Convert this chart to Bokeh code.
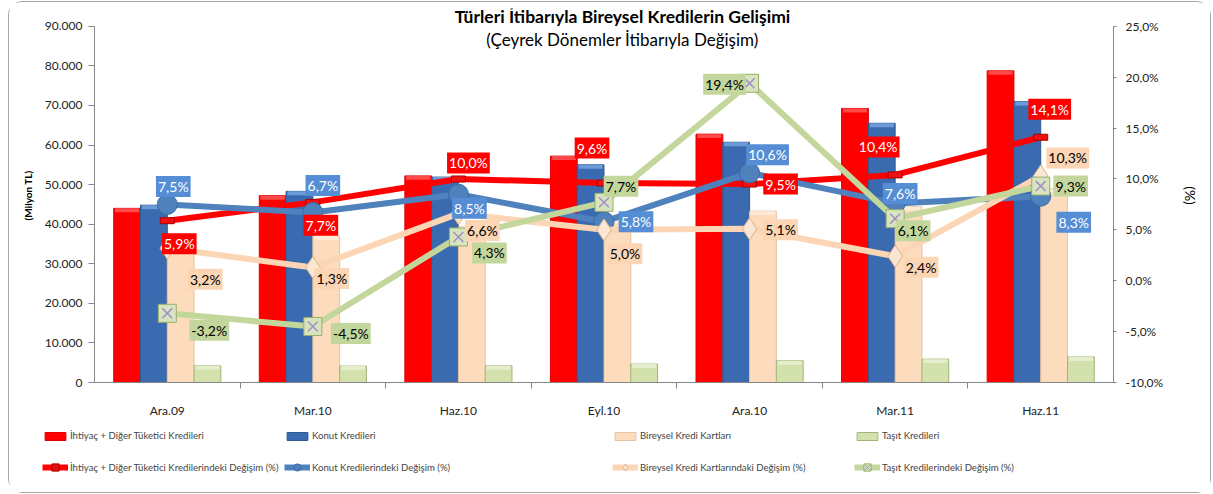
from bokeh.plotting import figure
from bokeh.layouts import column, row
from bokeh.models import (Range1d, LinearAxis, FixedTicker, CustomJSTickFormatter, ColumnDataSource,
                          Label, Legend, LegendItem)
from bokeh.transform import dodge
from bokeh.embed import file_html
from bokeh.resources import INLINE

# ---------------- data ----------------
categories = ["Ara.09", "Mar.10", "Haz.10", "Eyl.10", "Ara.10", "Mar.11", "Haz.11"]
ihtiyac = [44000, 47200, 52200, 57200, 62750, 69250, 78750]
konut = [44800, 48300, 51900, 55000, 60700, 65500, 71000]
kart = [36500, 37000, 39400, 41300, 43300, 44400, 49000]
tasit = [4200, 4150, 4200, 4650, 5500, 5900, 6450]
ihtiyac_pct = [5.9, 7.7, 10.0, 9.6, 9.5, 10.4, 14.1]
konut_pct = [7.5, 6.7, 8.5, 5.8, 10.6, 7.6, 8.3]
kart_pct = [3.2, 1.3, 6.6, 5.0, 5.1, 2.4, 10.3]
tasit_pct = [-3.2, -4.5, 4.3, 7.7, 19.4, 6.1, 9.3]
left_ticks = [0, 10000, 20000, 30000, 40000, 50000, 60000, 70000, 80000, 90000]
right_ticks = [-10, -5, 0, 5, 10, 15, 20, 25]

series_names = ["İhtiyaç + Diğer Tüketici Kredileri", "Konut Kredileri",
                "Bireysel Kredi Kartları", "Taşıt Kredileri"]
pct_names = ["İhtiyaç + Diğer Tüketici Kredilerindeki Değişim (%)",
             "Konut Kredilerindeki Değişim (%)",
             "Bireysel Kredi Kartlarındaki Değişim (%)",
             "Taşıt Kredilerindeki Değişim (%)"]

# label offsets in screen px (dx right, dy down)
red_off = [(12, 23), (8, 23), (10, -16), (-12, -35), (31, 0), (-17, -28), (9, -28)]
blue_off = [(6, -18), (10, -27), (11, 14), (32, 0), (18, -18), (5, -10), (33, 26)]
peach_off = [(38, 31), (19, 11), (24, 17), (21, 24), (31, 1), (26, 11), (27, -18)]
green_off = [(42, 17), (38, 7), (31, 16), (17, -16), (-25, 1), (18, 12), (30, 0)]

FONT = "Lato"
RED, BLUE, PEACH, GREEN = "#FF0000", "#3A6BB0", "#FCDCBD", "#D3E2AC"
RED_T, BLUE_T, PEACH_T, GREEN_T = "#FF4A4A", "#6C9BD8", "#FEEAD6", "#E4EDCC"
RED_E, BLUE_E, PEACH_E, GREEN_E = "#E00000", "#2F5A92", "#E6C3A2", "#A4B57A"
L_RED, L_BLUE, L_PEACH, L_GREEN = "#FF0000", "#4F81BD", "#FCD5B5", "#C3D69B"
AXIS_COLOR = "#868686"
CAP = 1000  # bevel strip height on the bar tops (value units, ~4 px)

xs = [i + 0.5 for i in range(len(categories))]


def fmt(v):
    return f"{v:.1f}".replace(".", ",") + "%"


src = ColumnDataSource(dict(
    x=xs, cat=categories, ihtiyac=ihtiyac, konut=konut, kart=kart, tasit=tasit,
    ihtiyac_cap=[v - CAP for v in ihtiyac], konut_cap=[v - CAP for v in konut],
    kart_cap=[v - CAP for v in kart], tasit_cap=[v - CAP for v in tasit],
    ihtiyac_pct=ihtiyac_pct, konut_pct=konut_pct, kart_pct=kart_pct, tasit_pct=tasit_pct,
))

# frame spans 378 px; the 0..90000 / -10..25 scales occupy the lower 360 px
EXT = 378 / 360
p = figure(width=1201, height=418, output_backend="svg", toolbar_location=None,
           x_range=Range1d(0, len(categories)), y_range=Range1d(0, 90000 * EXT),
           min_border_left=85, min_border_right=97, min_border_top=6, min_border_bottom=34)
p.outline_line_color = None
p.xgrid.visible = False
p.ygrid.visible = False
p.extra_y_ranges = {"pct": Range1d(-10, -10 + 35 * EXT)}

# x axis
xa = p.xaxis[0]
xa.ticker = FixedTicker(ticks=xs, minor_ticks=list(range(1, len(categories))))
xa.formatter = CustomJSTickFormatter(args=dict(labels=categories),
                                     code="return labels[Math.floor(tick)];")
xa.major_tick_out = 0
xa.major_tick_in = 0
xa.minor_tick_out = 6
xa.minor_tick_in = 0
xa.minor_tick_line_color = AXIS_COLOR
xa.axis_line_color = AXIS_COLOR
xa.major_label_text_font = FONT
xa.major_label_text_font_size = "12px"
xa.major_label_text_color = "#222222"
xa.major_label_standoff = 14

# left axis
ya = p.yaxis[0]
ya.bounds = (left_ticks[0], left_ticks[-1])
ya.ticker = FixedTicker(ticks=left_ticks)
ya.formatter = CustomJSTickFormatter(code="""
const s = Math.round(tick).toString();
return s.replace(/\\B(?=(\\d{3})+(?!\\d))/g, ".");
""")
ya.major_tick_out = 6
ya.major_tick_in = 0
ya.minor_tick_out = 0
ya.minor_tick_in = 0
ya.axis_line_color = AXIS_COLOR
ya.major_tick_line_color = AXIS_COLOR
ya.major_label_text_font = FONT
ya.major_label_text_font_size = "12px"
ya.major_label_text_color = "#222222"
ya.major_label_standoff = 6
ya.axis_label = "(Milyon TL)"
ya.axis_label_text_font = FONT
ya.axis_label_text_font_size = "10px"
ya.axis_label_text_font_style = "bold"
ya.axis_label_text_color = "#000000"
ya.axis_label_standoff = 8

# right axis
ra = LinearAxis(y_range_name="pct", ticker=FixedTicker(ticks=right_ticks),
                bounds=(right_ticks[0], right_ticks[-1]),
                formatter=CustomJSTickFormatter(
                    code='return tick.toFixed(1).replace(".", ",") + "%";'))
ra.major_tick_out = 3
ra.major_tick_in = 0
ra.minor_tick_out = 0
ra.minor_tick_in = 0
ra.axis_line_color = AXIS_COLOR
ra.major_tick_line_color = AXIS_COLOR
ra.major_label_text_font = FONT
ra.major_label_text_font_size = "12px"
ra.major_label_text_color = "#222222"
ra.major_label_standoff = 9
ra.axis_label = "(%)"
ra.axis_label_text_font = FONT
ra.axis_label_text_font_size = "14px"
ra.axis_label_text_font_style = "normal"
ra.axis_label_text_color = "#000000"
ra.axis_label_standoff = 16
p.add_layout(ra, "right")

# ---------------- bars ----------------
W = 0.184
bar_cols = [("ihtiyac", -1.5, RED, RED_T, RED_E), ("konut", -0.5, BLUE, BLUE_T, BLUE_E),
            ("kart", 0.5, PEACH, PEACH_T, PEACH_E), ("tasit", 1.5, GREEN, GREEN_T, GREEN_E)]
for col, k, fc, tc, lc in bar_cols:
    p.vbar(x=dodge("x", k * W, range=p.x_range), top=col, width=W, source=src,
           fill_color=fc, line_color=lc)
    p.vbar(x=dodge("x", k * W, range=p.x_range), top=col, bottom=col + "_cap", width=W * 0.9,
           source=src, fill_color=tc, line_color=None)

# ---------------- lines ----------------
p.line("x", "ihtiyac_pct", source=src, y_range_name="pct", line_color=L_RED, line_width=6)
p.rect("x", "ihtiyac_pct", source=src, y_range_name="pct", width=14, height=6,
       width_units="screen", height_units="screen", fill_color="#F01010", line_color="#B00000")
p.line("x", "konut_pct", source=src, y_range_name="pct", line_color=L_BLUE, line_width=6)
p.scatter("x", "konut_pct", source=src, y_range_name="pct", marker="circle", size=20,
          fill_color="#4F81BD", line_color="#3A6CA8")
p.line("x", "kart_pct", source=src, y_range_name="pct", line_color=L_PEACH, line_width=6)
p.scatter("x", "kart_pct", source=src, y_range_name="pct", marker="diamond", size=22,
          fill_color="#FBE6D2", line_color="#D9B38C")
p.line("x", "tasit_pct", source=src, y_range_name="pct", line_color=L_GREEN, line_width=6)
p.scatter("x", "tasit_pct", source=src, y_range_name="pct", marker="square", size=18,
          fill_color="#D7E4BD", line_color="#98AE6A")
p.scatter("x", "tasit_pct", source=src, y_range_name="pct", marker="x", size=14,
          line_color="#A38FC7", line_width=1.5)


# ---------------- data labels ----------------
def add_labels(vals, offs, bg, fg):
    for xv, v, (dx, dy) in zip(xs, vals, offs):
        p.add_layout(Label(x=xv, y=v, y_range_name="pct", text=fmt(v),
                           x_offset=dx, y_offset=-dy, text_align="center", text_baseline="middle",
                           text_font=FONT, text_font_size="14px", text_color=fg,
                           background_fill_color=bg, padding=2))


add_labels(ihtiyac_pct, red_off, "#FF0000", "#FFFFFF")
add_labels(konut_pct, blue_off, "#558ED5", "#FFFFFF")
add_labels(kart_pct, peach_off, "#FCD5B5", "#000000")
add_labels(tasit_pct, green_off, "#C3D69B", "#000000")

# ---------------- titles ----------------
p.add_layout(Label(x=528, y=366, x_units="screen", y_units="screen",
                   text="Türleri İtibarıyla Bireysel Kredilerin Gelişimi",
                   text_font=FONT, text_font_size="17.5px", text_font_style="bold",
                   text_align="center", text_baseline="middle", text_color="#000000"))
p.add_layout(Label(x=528, y=343, x_units="screen", y_units="screen",
                   text="(Çeyrek Dönemler İtibarıyla Değişim)",
                   text_font=FONT, text_font_size="17px",
                   text_align="center", text_baseline="middle", text_color="#000000"))

# ---------------- legend strip ----------------
q = figure(width=1201, height=72, output_backend="svg", toolbar_location=None,
           x_range=Range1d(0, 1201), y_range=Range1d(0, 72),
           min_border_left=0, min_border_right=0, min_border_top=0, min_border_bottom=0)
q.axis.visible = False
q.xgrid.visible = False
q.ygrid.visible = False
q.outline_line_color = None

# off-screen stand-in glyphs: they only supply the legend swatches
OFF = [-500]
bar_styles = [(RED, RED_E), (BLUE, BLUE_E), (PEACH, PEACH_E), (GREEN, GREEN_E)]
lb = [q.vbar(x=OFF, top=OFF, width=1, fill_color=fc, line_color=lc) for fc, lc in bar_styles]
lr = [
    [q.line(x=[-500, -499], y=OFF * 2, line_color=L_RED, line_width=6),
     q.scatter(x=OFF, y=OFF, marker="square", size=6, fill_color="#E01010", line_color="#B00000")],
    [q.line(x=[-500, -499], y=OFF * 2, line_color=L_BLUE, line_width=6),
     q.scatter(x=OFF, y=OFF, marker="circle", size=10, fill_color="#4F81BD", line_color="#3A6CA8")],
    [q.line(x=[-500, -499], y=OFF * 2, line_color=L_PEACH, line_width=6),
     q.scatter(x=OFF, y=OFF, marker="diamond", size=10, fill_color="#FBE6D2", line_color="#D9B38C")],
    [q.line(x=[-500, -499], y=OFF * 2, line_color=L_GREEN, line_width=6),
     q.scatter(x=OFF, y=OFF, marker="square", size=10, fill_color="#D7E4BD", line_color="#98AE6A"),
     q.scatter(x=OFF, y=OFF, marker="x", size=10, line_color="#A38FC7", line_width=1)],
]
col_x = [33, 275, 603, 845]
for i in range(4):
    q.add_layout(Legend(items=[LegendItem(label=series_names[i], renderers=[lb[i]])],
                        location=(col_x[i], 51), padding=0, margin=0,
                        border_line_color=None, background_fill_alpha=0,
                        label_text_font=FONT, label_text_font_size="9.6px",
                        glyph_width=26, glyph_height=10, label_height=10, label_standoff=2))
    q.add_layout(Legend(items=[LegendItem(label=pct_names[i], renderers=lr[i])],
                        location=(col_x[i], 16), padding=0, margin=0,
                        border_line_color=None, background_fill_alpha=0,
                        label_text_font=FONT, label_text_font_size="9.6px",
                        glyph_width=26, glyph_height=18, label_height=18, label_standoff=2))

layout = column(p, row(q), spacing=0,
                styles={"margin-left": "8px", "margin-top": "1px",
                        "border": "1px solid #A6A6A6", "border-radius": "14px"})

open("out.html", "w").write(file_html(layout, INLINE))
